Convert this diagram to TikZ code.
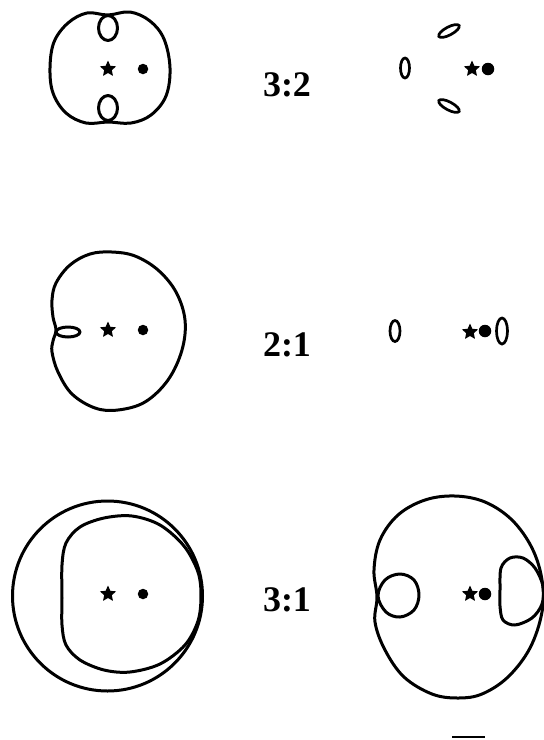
\documentclass[tikz,border=0pt]{standalone}
\usepackage{fontspec}
\setmainfont{Liberation Serif}
\tikzset{
  curve/.style={line width=3pt, line join=round, line cap=round},
  small/.style={line width=2.7pt},
  starpic/.pic={\fill[black] (-90:8.5) -- (-54:4) -- (-18:8.5) -- (18:4) -- (54:8.5)
      -- (90:4) -- (126:8.5) -- (162:4) -- (198:8.5) -- (234:4) -- cycle;},
  dotmark/.style={circle, fill=black, draw=none, minimum size=10.5pt, inner sep=0pt},
  ratio/.style={font=\fontsize{36}{36}\selectfont\bfseries, inner sep=0pt}
}
\begin{document}
\begin{tikzpicture}[x=1pt, y=-1pt]
\useasboundingbox (0,0) rectangle (544,740);

% ---------- Row 1 ----------
\draw[curve] plot[smooth cycle, tension=0.6] coordinates {
  (108,15) (130,12) (150,21) (164,39) (170,68) (166,96) (151,115) (131,123)
  (108,122) (86,123) (66,113) (53,93) (50,68) (54,42) (68,23) (87,13)};
\draw[curve] (108,28) ellipse [x radius=9.5, y radius=12.5];
\draw[curve] (108,108) ellipse [x radius=9.5, y radius=12.5];
\coordinate (s1) at (108,69); \pic at (s1) {starpic};
\node[dotmark] (d1) at (143,69) {};

\node[ratio] (r1) at (287,85) {3:2};

\begin{scope}[shift={(449,31)}, rotate=28]
  \draw[small] (0,0) ellipse [x radius=11.5, y radius=4];
\end{scope}
\begin{scope}[shift={(449,106)}, rotate=-28]
  \draw[small] (0,0) ellipse [x radius=11.5, y radius=4];
\end{scope}
\draw[small] (405,68) ellipse [x radius=4.5, y radius=10];
\coordinate (s2) at (472,69); \pic at (s2) {starpic};
\node[dotmark, minimum size=12.5pt] (d2) at (488,69) {};

% ---------- Row 2 ----------
\draw[curve] plot[smooth cycle, tension=0.6] coordinates {
  (56,330) (53,317) (52,300) (56,283) (70,265) (90,254) (112,252) (135,256)
  (158,270) (176,292) (185,320) (182,350) (168,380) (145,402) (118,410)
  (95,408) (72,394) (58,372) (52,352) (53,341)};
\draw[curve] (68,332) ellipse [x radius=12, y radius=5];
\coordinate (s3) at (108,330); \pic at (s3) {starpic};
\node[dotmark] (d3) at (143,330) {};

\node[ratio] (r2) at (287,345) {2:1};

\draw[small] (395,331) ellipse [x radius=5, y radius=10.5];
\coordinate (s4) at (470,332); \pic at (s4) {starpic};
\node[dotmark, minimum size=12.5pt] (d4) at (485,331) {};
\draw[small] (502,331) ellipse [x radius=5.5, y radius=13];

% ---------- Row 3 ----------
\draw[curve] (107.5,596) circle [radius=95];
\draw[curve] plot[smooth cycle, tension=0.55] coordinates {
  (62,598) (62,565) (66,543) (80,527) (104,518) (132,516) (160,525)
  (184,546) (198,572) (201,596) (198,621) (185,645) (160,664) (130,672)
  (104,670) (80,660) (66,645) (62,625)};
\coordinate (s5) at (108,594); \pic at (s5) {starpic};
\node[dotmark] (d5) at (143,594) {};

\node[ratio] (r3) at (287,600) {3:1};

\draw[curve] plot[smooth cycle, tension=0.6] coordinates {
  (377,597) (374,570) (380,540) (398,515) (425,500) (455,496) (485,502)
  (512,520) (532,548) (542,580) (542,612) (530,648) (508,677) (482,694)
  (458,698) (432,694) (404,677) (385,650) (375,622)};
\draw[curve] plot[smooth cycle, tension=0.6] coordinates {
  (378,596) (385,580) (400,574) (414,580) (419,595) (414,610) (400,617) (386,612)};
\draw[curve] plot[smooth cycle, tension=0.55] coordinates {
  (500,590) (501,568) (510,558) (523,558) (535,568) (543,586) (542,604)
  (532,618) (515,625) (503,620) (500,606)};
\coordinate (s6) at (470,594); \pic at (s6) {starpic};
\node[dotmark, minimum size=12.5pt] (d6) at (485,594) {};

\coordinate (b1) at (452,737);
\coordinate (b2) at (485,737);
\draw[line width=2.5pt] (b1) -- (b2);
\end{tikzpicture}
\end{document}
